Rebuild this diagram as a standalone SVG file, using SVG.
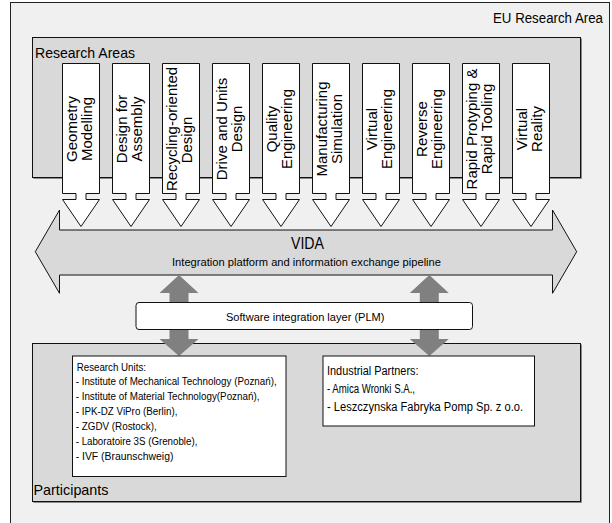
<svg xmlns="http://www.w3.org/2000/svg" width="612" height="523" viewBox="0 0 612 523">
  <style>
    text { font-family: "Liberation Sans", Arial, sans-serif; fill: #000; }
    .frame { fill: #f0f0f0; stroke: #222; stroke-width: 1; }
    .panel { fill: #d9d9d9; stroke: #111; stroke-width: 1; }
    .shadow { fill: none; stroke: #8a8a8a; stroke-width: 1; }
    .col { fill: #fff; stroke: #111; stroke-width: 1; stroke-linejoin: miter; }
    .pipe { fill: #d9d9d9; stroke: #111; stroke-width: 1; }
    .link { fill: #808080; stroke: none; }
    .box { fill: #fff; stroke: #111; stroke-width: 1; }
    .lbl { font-size: 15px; }
    .col-lbl { font-size: 15px; text-anchor: middle; }
    .small { font-size: 10px; }
    .mid { font-size: 12px; }
  </style>

  <!-- outer area -->
  <g id="eu-area">
    <rect class="frame" x="10.5" y="2.5" width="599" height="530"/>
    <!-- title set narrow and stretched vertically -->
    <text transform="translate(493,22.7) scale(1,1.2)" style="font-size:12.5px" textLength="110" lengthAdjust="spacingAndGlyphs">EU Research Area</text>
  </g>

  <!-- research areas panel -->
  <g id="research-areas">
    <path class="shadow" d="M581.5,38.5 V178.5 H33.5"/>
    <rect class="panel" x="32.5" y="37.5" width="548" height="140"/>
    <text class="lbl" x="35" y="58.3" textLength="100" lengthAdjust="spacingAndGlyphs">Research Areas</text>
  </g>

  <!-- research area columns (block arrows pointing down) -->
  <g id="columns">
    <g id="col-geometry" transform="translate(62.5,0)">
      <path class="col" d="M0,63.5 H37 V193.5 H23.5 V199.5 H37 L18.5,226.5 L0,199.5 H13.5 V193.5 H0 Z"/>
      <text class="col-lbl" transform="translate(14.5,129) rotate(-90)">Geometry</text>
      <text class="col-lbl" transform="translate(29.5,129) rotate(-90)">Modelling</text>
    </g>
    <g id="col-assembly" transform="translate(112.5,0)">
      <path class="col" d="M0,63.5 H37 V193.5 H23.5 V199.5 H37 L18.5,226.5 L0,199.5 H13.5 V193.5 H0 Z"/>
      <text class="col-lbl" transform="translate(14.5,129) rotate(-90)">Design for</text>
      <text class="col-lbl" transform="translate(29.5,129) rotate(-90)">Assembly</text>
    </g>
    <g id="col-recycling" transform="translate(162.5,0)">
      <path class="col" d="M0,63.5 H37 V193.5 H23.5 V199.5 H37 L18.5,226.5 L0,199.5 H13.5 V193.5 H0 Z"/>
      <text class="col-lbl" transform="translate(14.5,129) rotate(-90)">Recycling-oriented</text>
      <text class="col-lbl" transform="translate(29.5,140) rotate(-90)">Design</text>
    </g>
    <g id="col-drive" transform="translate(212.5,0)">
      <path class="col" d="M0,63.5 H37 V193.5 H23.5 V199.5 H37 L18.5,226.5 L0,199.5 H13.5 V193.5 H0 Z"/>
      <text class="col-lbl" transform="translate(14.5,129) rotate(-90)">Drive and Units</text>
      <text class="col-lbl" transform="translate(29.5,129) rotate(-90)">Design</text>
    </g>
    <g id="col-quality" transform="translate(262.5,0)">
      <path class="col" d="M0,63.5 H37 V193.5 H23.5 V199.5 H37 L18.5,226.5 L0,199.5 H13.5 V193.5 H0 Z"/>
      <text class="col-lbl" transform="translate(14.5,129) rotate(-90)">Quality</text>
      <text class="col-lbl" transform="translate(29.5,129) rotate(-90)">Engineering</text>
    </g>
    <g id="col-manufacturing" transform="translate(312.5,0)">
      <path class="col" d="M0,63.5 H37 V193.5 H23.5 V199.5 H37 L18.5,226.5 L0,199.5 H13.5 V193.5 H0 Z"/>
      <text class="col-lbl" transform="translate(14.5,129) rotate(-90)">Manufacturing</text>
      <text class="col-lbl" transform="translate(29.5,129) rotate(-90)">Simulation</text>
    </g>
    <g id="col-virtual-eng" transform="translate(362.5,0)">
      <path class="col" d="M0,63.5 H37 V193.5 H23.5 V199.5 H37 L18.5,226.5 L0,199.5 H13.5 V193.5 H0 Z"/>
      <text class="col-lbl" transform="translate(14.5,129) rotate(-90)">Virtual</text>
      <text class="col-lbl" transform="translate(29.5,129) rotate(-90)">Engineering</text>
    </g>
    <g id="col-reverse" transform="translate(412.5,0)">
      <path class="col" d="M0,63.5 H37 V193.5 H23.5 V199.5 H37 L18.5,226.5 L0,199.5 H13.5 V193.5 H0 Z"/>
      <text class="col-lbl" transform="translate(14.5,129) rotate(-90)">Reverse</text>
      <text class="col-lbl" transform="translate(29.5,129) rotate(-90)">Engineering</text>
    </g>
    <g id="col-rapid" transform="translate(462.5,0)">
      <path class="col" d="M0,63.5 H37 V193.5 H23.5 V199.5 H37 L18.5,226.5 L0,199.5 H13.5 V193.5 H0 Z"/>
      <text class="col-lbl" transform="translate(14.5,129) rotate(-90)">Rapid Protyping &amp;</text>
      <text class="col-lbl" transform="translate(29.5,129) rotate(-90)">Rapid Tooling</text>
    </g>
    <g id="col-vr" transform="translate(512.5,0)">
      <path class="col" d="M0,63.5 H37 V193.5 H23.5 V199.5 H37 L18.5,226.5 L0,199.5 H13.5 V193.5 H0 Z"/>
      <text class="col-lbl" transform="translate(14.5,129) rotate(-90)">Virtual</text>
      <text class="col-lbl" transform="translate(29.5,129) rotate(-90)">Reality</text>
    </g>
  </g>

  <!-- VIDA pipeline (double-headed block arrow) -->
  <g id="vida">
    <path class="pipe" d="M35.3,251.7 L59.5,210 V230 H552.5 V210 L576.7,251.7 L552.5,293.3 V275 H59.5 V293.3 Z"/>
    <text x="291" y="249" style="font-size:16px" textLength="33" lengthAdjust="spacingAndGlyphs">VIDA</text>
    <text x="172" y="266" style="font-size:10.5px" textLength="269" lengthAdjust="spacingAndGlyphs">Integration platform and information exchange pipeline</text>
  </g>

  <!-- participants panel -->
  <g id="participants">
    <path class="shadow" d="M581.5,344.5 V502.5 H33.5"/>
    <rect class="panel" x="32.5" y="343.5" width="548" height="158"/>
    <text class="lbl" x="33.5" y="495" textLength="75" lengthAdjust="spacingAndGlyphs">Participants</text>
  </g>

  <!-- connectors between the pipeline, PLM layer and participants -->
  <g id="connectors">
    <path class="link" d="M179,275 L198.5,293 H188.5 V339 H198.5 L179,356 L159.5,339 H169.5 V293 H159.5 Z"/>
    <path class="link" d="M429.3,275 L448.8,293 H438.8 V339 H448.8 L429.3,356 L409.8,339 H419.8 V293 H409.8 Z"/>
  </g>

  <!-- software integration layer -->
  <g id="plm">
    <rect class="box" x="136" y="302.5" width="336.5" height="27" rx="3" ry="3"/>
    <text x="226" y="320.5" style="font-size:10.5px" textLength="158.5" lengthAdjust="spacingAndGlyphs">Software integration layer (PLM)</text>
  </g>

  <!-- research units -->
  <g id="research-units">
    <rect class="box" x="72.5" y="356" width="213.5" height="120.5"/>
    <text class="small" x="76.7" y="370.5" textLength="69.3" lengthAdjust="spacingAndGlyphs">Research Units:</text>
    <text class="small" x="75.7" y="385.4" textLength="201" lengthAdjust="spacingAndGlyphs">- Institute of Mechanical Technology (Poznań),</text>
    <text class="small" x="75.7" y="400.3" textLength="183.7" lengthAdjust="spacingAndGlyphs">- Institute of Material Technology(Poznań),</text>
    <text class="small" x="75.7" y="415.2" textLength="101.7" lengthAdjust="spacingAndGlyphs">- IPK-DZ ViPro (Berlin),</text>
    <text class="small" x="75.7" y="430.1" textLength="81" lengthAdjust="spacingAndGlyphs">- ZGDV (Rostock),</text>
    <text class="small" x="75.7" y="445" textLength="121.7" lengthAdjust="spacingAndGlyphs">- Laboratoire 3S (Grenoble),</text>
    <text class="small" x="75.7" y="459.9" textLength="97.7" lengthAdjust="spacingAndGlyphs">- IVF (Braunschweig)</text>
  </g>

  <!-- industrial partners -->
  <g id="industrial-partners">
    <rect class="box" x="323" y="356" width="211.5" height="70"/>
    <text class="mid" x="327" y="374.5" textLength="91.5" lengthAdjust="spacingAndGlyphs">Industrial Partners:</text>
    <text class="mid" x="327" y="392.5" textLength="88" lengthAdjust="spacingAndGlyphs">- Amica Wronki S.A.,</text>
    <text class="mid" x="327" y="410.5" textLength="196" lengthAdjust="spacingAndGlyphs">- Leszczynska Fabryka Pomp Sp. z o.o.</text>
  </g>
</svg>
